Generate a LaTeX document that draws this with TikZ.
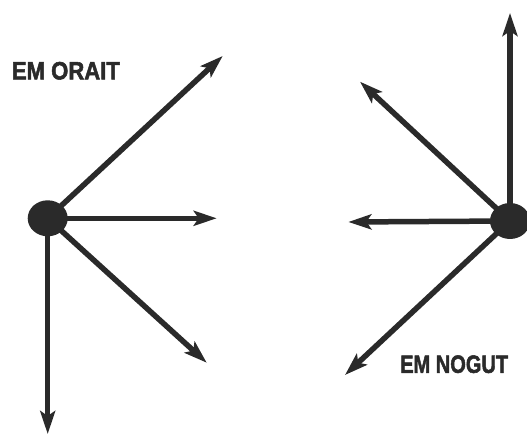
\documentclass[tikz,border=0pt]{standalone}
\usepackage{fontspec}
\setmainfont{Liberation Sans}
\newfontfamily\heavysans[FakeBold=2.2]{Liberation Sans Bold}
\usetikzlibrary{arrows.meta,shapes.geometric}
\pgfdeclarelayer{background}
\pgfsetlayers{background,main}
\definecolor{ink}{HTML}{2A2A2A}
\tikzset{
  vec/.style={draw=ink, line width=5.5pt,
    -{Stealth[length=23pt, width=15pt, inset=5pt]}},
  hub/.style={ellipse, fill=ink, minimum width=40pt, minimum height=36pt, inner sep=0pt},
  caption/.style={text=ink, inner sep=0pt, font=\fontsize{23.5}{24}\heavysans},
}
% caption text squeezed to a fixed width and cap height
\newcommand{\capbox}[1]{\resizebox{108pt}{17.5pt}{#1}}
\begin{document}
\begin{tikzpicture}[x=1pt, y=-1pt]
  \useasboundingbox (0,0) rectangle (527,435);

  % left hub and its four vectors
  \node[hub] (L) at (47.7,218.3) {};
  \coordinate (L1) at (222.7,56);
  \coordinate (L2) at (216.7,218.3);
  \coordinate (L3) at (206.7,362.7);
  \coordinate (L4) at (47.7,434);

  % right hub and its four vectors
  \node[hub] (R) at (510,221) {};
  \coordinate (R1) at (510,13);
  \coordinate (R2) at (360,81.7);
  \coordinate (R3) at (348.3,222);
  \coordinate (R4) at (345,375);

  \begin{pgfonlayer}{background}
    \foreach \t in {L1,L2,L3,L4} \draw[vec] (L.center) -- (\t);
    \foreach \t in {R1,R2,R3,R4} \draw[vec] (R.center) -- (\t);
  \end{pgfonlayer}

  \node[caption] (tl) at (65.9,70.8) {\capbox{EM ORAIT}};
  \node[caption] (tr) at (454.2,364.2) {\capbox{EM NOGUT}};
\end{tikzpicture}
\end{document}
